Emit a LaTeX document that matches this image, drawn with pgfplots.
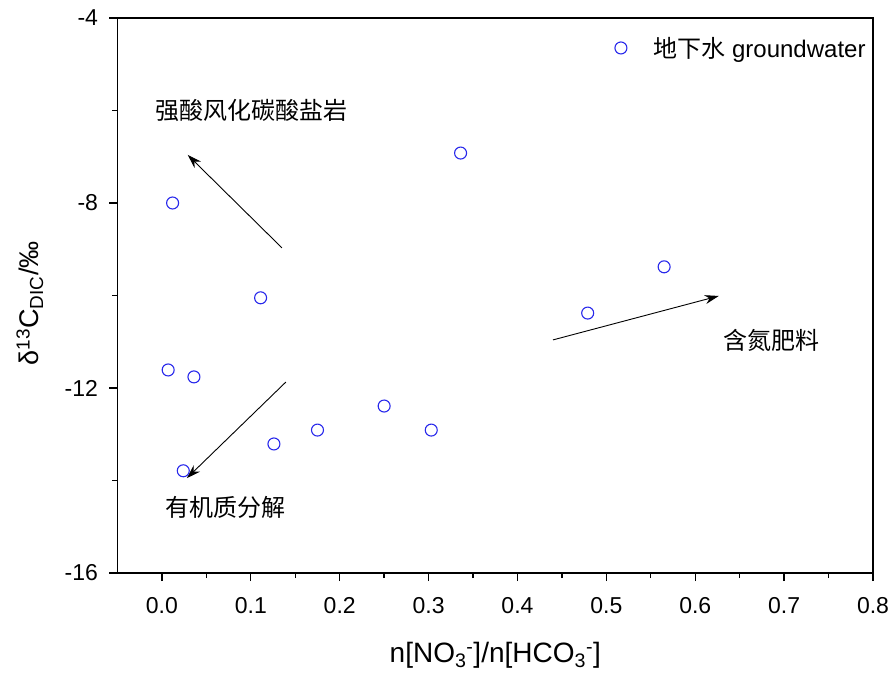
\documentclass[border=0pt]{standalone}
\usepackage{fontspec}
\setmainfont{Liberation Sans}
\newfontfamily\cjk{Noto Sans CJK SC}
\usepackage{pgfplots}
\pgfplotsset{compat=1.18}
\usetikzlibrary{arrows.meta}

% ion subscript followed by its charge
\newcommand{\ion}[2]{\textsubscript{#1}\textsuperscript{#2}}

\pgfplotstableread{
x      y
0.012  -8.00
0.336  -6.92
0.565  -9.38
0.479  -10.38
0.111  -10.05
0.007  -11.61
0.036  -11.76
0.250  -12.39
0.175  -12.91
0.303  -12.91
0.126  -13.21
0.024  -13.79
}\groundwater

\definecolor{ptblue}{RGB}{40,40,235}

\begin{document}
\begin{tikzpicture}
\begin{axis}[
  width=755.5bp, height=555bp, scale only axis,
  xmin=-0.05, xmax=0.8, ymin=-16, ymax=-4,
  xtick={0,0.1,0.2,0.3,0.4,0.5,0.6,0.7,0.8},
  ytick={-16,-12,-8,-4},
  minor x tick num=1, minor y tick num=1,
  xtick pos=bottom, ytick pos=left,
  tick align=outside,
  major tick length=8bp, minor tick length=5bp,
  every tick/.style={black, line width=1.3bp},
  axis line style={line width=1.4bp},
  /pgf/number format/assume math mode=true,
  xticklabel style={/pgf/number format/fixed, /pgf/number format/fixed zerofill,
    /pgf/number format/precision=1, yshift=-13bp},
  yticklabel style={xshift=-8bp},
  ticklabel style={font=\fontsize{23bp}{26bp}\selectfont},
  xlabel={n[NO\ion{3}{-}]/n[HCO\ion{3}{-}]},
  ylabel={δ\textsuperscript{13}C\textsubscript{DIC}/‰},
  xlabel style={font=\fontsize{28bp}{31bp}\selectfont,
    at={(axis description cs:0.5,-0.148)}, anchor=center},
  ylabel style={font=\fontsize{27bp}{30bp}\selectfont,
    at={(axis description cs:-0.116,0.486)}, anchor=center},
  legend style={draw=none, fill=none, at={(0.997,0.946)}, anchor=east,
    font=\fontsize{24bp}{27bp}\selectfont, legend cell align=left},
  legend image code/.code={\draw[#1] (0bp,0bp) circle[radius=6bp]; \path (-6bp,0bp) (30bp,0bp);},
]
\addplot[only marks, mark=o, mark size=6bp, draw=ptblue, line width=1.1bp] table {\groundwater};
\addlegendentry{{\cjk 地下水} groundwater}

\draw[-{Stealth[length=14bp,width=9bp]}, line width=0.9bp] (axis cs:0.135,-8.97) -- (axis cs:0.029,-6.96);
\draw[-{Stealth[length=14bp,width=9bp]}, line width=0.9bp] (axis cs:0.1395,-11.87) -- (axis cs:0.028,-13.95);
\draw[-{Stealth[length=14bp,width=9bp]}, line width=0.9bp] (axis cs:0.44,-10.96) -- (axis cs:0.6265,-10.01);

\node[font=\cjk\fontsize{24bp}{27bp}\selectfont] at (axis cs:0.101,-5.99) {强酸风化碳酸盐岩};
\node[font=\cjk\fontsize{24bp}{27bp}\selectfont] at (axis cs:0.686,-10.98) {含氮肥料};
\node[font=\cjk\fontsize{24bp}{27bp}\selectfont] at (axis cs:0.072,-14.59) {有机质分解};
\end{axis}
% page margins around the plot area
\path (current axis.south west) ++(-117.5bp,-102bp) rectangle ([xshift=20bp,yshift=18bp]current axis.north east);
\end{tikzpicture}
\end{document}
